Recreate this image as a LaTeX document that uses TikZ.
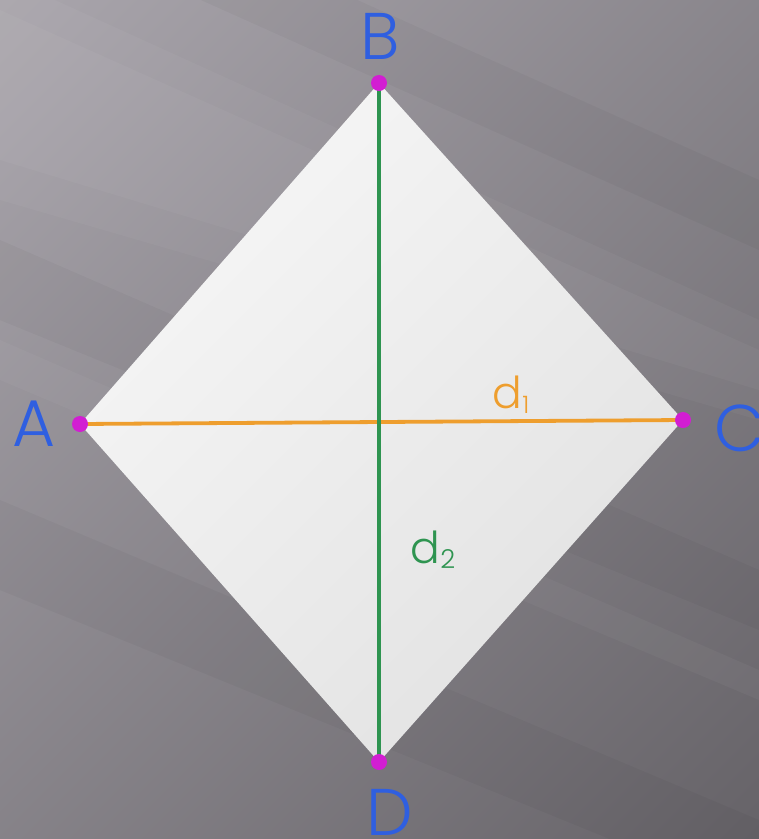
\documentclass[tikz,border=0pt]{standalone}
\usepackage{fontspec}
\IfFontExistsTF{Poppins Light}{\setmainfont{Poppins Light}}{\setmainfont{Poppins}}
\usetikzlibrary{calc}
\definecolor{bgL}{HTML}{ABA7AE}
\definecolor{bgR}{HTML}{646166}
\definecolor{lblue}{HTML}{2F5FE0}
\definecolor{dorange}{HTML}{EE9E2E}
\definecolor{dgreen}{HTML}{2E9450}
\definecolor{dmag}{HTML}{D21ED2}
\definecolor{rfillA}{HTML}{F6F6F6}
\definecolor{rfillB}{HTML}{E2E2E2}
\tikzset{
  vlabel/.style={text=lblue,font=\fontsize{66}{66}\selectfont,inner sep=0pt},
  dlabel/.style={font=\fontsize{44}{44}\selectfont,inner sep=0pt},
  vdot/.style={circle,fill=dmag,inner sep=0pt,minimum size=16pt},
  lstreak/.style={white,opacity=0.035},
  dstreak/.style={black,opacity=0.03}
}
\begin{document}
\begin{tikzpicture}[x=1pt,y=-1pt]
\useasboundingbox (0,0) rectangle (759,839);
\shade[shading=axis,top color=bgL,bottom color=bgR,shading angle=45] (-200,-200) rectangle (959,1039);
\begin{scope}
\clip (0,0) rectangle (759,839);
\fill[lstreak] (0,-25) -- (759,320) -- (759,420) -- (0,200) -- cycle;
\fill[lstreak] (0,10) -- (759,350) -- (759,390) -- (0,160) -- cycle;
\fill[dstreak] (0,-160) -- (759,180) -- (759,250) -- (0,-90) -- cycle;
\fill[dstreak] (0,240) -- (759,570) -- (759,630) -- (0,320) -- cycle;
\fill[lstreak] (0,340) -- (759,670) -- (759,700) -- (0,380) -- cycle;
\fill[dstreak] (0,500) -- (759,820) -- (759,900) -- (0,590) -- cycle;
\end{scope}
\coordinate (A) at (80,424);
\coordinate (B) at (379,83);
\coordinate (C) at (683,420);
\coordinate (D) at (379,762);
\shade[shading=axis,top color=rfillA,bottom color=rfillB,shading angle=45] (A) -- (B) -- (C) -- (D) -- cycle;
\draw[dorange,line width=3.8pt] (A) -- (C);
\draw[dgreen,line width=3.8pt] (B) -- (D);
\node[vdot] (dA) at (A) {};
\node[vdot] (dB) at (B) {};
\node[vdot] (dC) at (C) {};
\node[vdot] (dD) at (D) {};
\node[vlabel] (lB) at (380,36) {B};
\node[vlabel] (lA) at (34,424) {A};
\node[vlabel] (lC) at (740,428) {C};
\node[vlabel] (lD) at (390,812) {D};
\node[dlabel,text=dorange] (d1) at (511,395) {d\raisebox{-0.12em}{\fontsize{24}{24}\selectfont 1}};
\node[dlabel,text=dgreen] (d2) at (433,550) {d\raisebox{-0.12em}{\fontsize{26}{26}\selectfont 2}};
\end{tikzpicture}
\end{document}
